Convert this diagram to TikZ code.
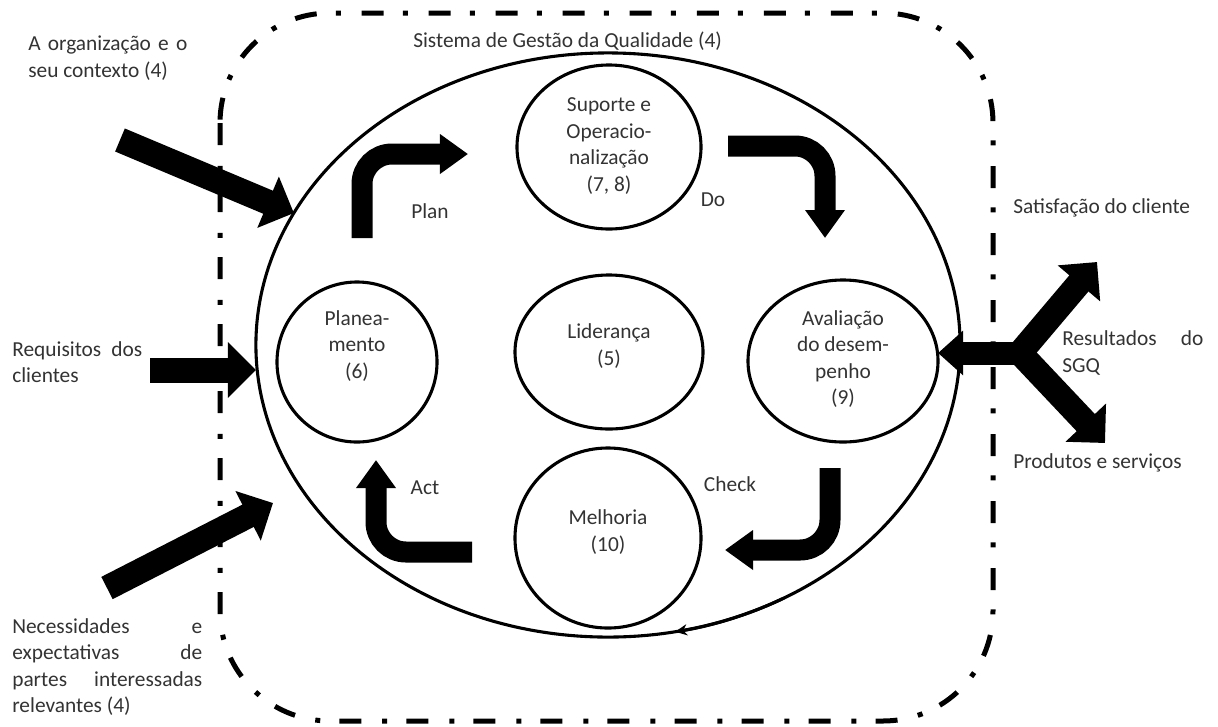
\documentclass[tikz,border=0pt]{standalone}
\usepackage{fontspec}
\setmainfont{Carlito}
\usetikzlibrary{shapes.geometric, arrows.meta, positioning}
\newcommand{\fillline}[2]{\makebox[#1][s]{#2}}

\begin{document}
\begin{tikzpicture}[x=0.025cm, y=-0.025cm, >=Stealth,
  phase/.style={ellipse, draw, line width=2.2pt, inner sep=0pt, outer sep=0pt},
  phasetext/.style={align=center, inner sep=0pt, text=black!80,
    font=\fontsize{15.2}{18.8}\selectfont},
  note/.style={align=left, inner sep=0pt, text=black!80,
    font=\fontsize{15.2}{18.8}\selectfont},
  inarrow/.style={line width=0.625cm, -{Triangle[length=0.7cm, width=1.35cm]}},
  backarrow/.style={line width=0.575cm, -{Triangle[length=0.625cm, width=1.075cm]}},
  cyclearrow/.style={line width=0.525cm, rounded corners=0.75cm,
    -{Triangle[length=0.7cm, width=0.95cm]}},
  sgqborder/.style={line width=0.125cm, rounded corners=2.75cm,
    dash pattern=on 0.55cm off 0.52cm on 0.125cm off 0.48cm}]
  \useasboundingbox (0,0) rectangle (1218,726);

  % system boundary
  \draw[sgqborder] (220,13) rectangle (993,721);
  \node[note, anchor=west] (sgqL) at (413,41) {Sistema de Gestão da Qualidade (4)};

  % main cycle
  \node[phase, minimum width=17.6cm, minimum height=14.6cm] (sgq) at (608,345) {};
  \draw[line width=2.2pt, -{Stealth[length=0.3cm, width=0.28cm]}]
    (784,598) arc[start angle=60, end angle=79, x radius=352, y radius=292];

  \node[phase, minimum width=4.6cm, minimum height=4.1cm] (sup) at (609,147) {};
  \node[phase, minimum width=4cm, minimum height=4cm] (plan) at (357,362) {};
  \node[phase, minimum width=4.7cm, minimum height=3.85cm] (lid) at (609,352) {};
  \node[phase, minimum width=4.75cm, minimum height=4.05cm] (aval) at (843,361) {};
  \node[phase, minimum width=4.65cm, minimum height=4.5cm] (melh) at (608,538) {};

  \node[phasetext] (supT) at (609,146) {Suporte e\\Operacio-\\nalização\\(7, 8)};
  \node[phasetext] (planT) at (357,346) {Planea-\\mento\\(6)};
  \node[phasetext] (lidT) at (609,346) {Liderança\\(5)};
  \node[phasetext] (avalT) at (843,359) {Avaliação\\do desem-\\penho\\(9)};
  \node[phasetext] (melhT) at (608,532) {Melhoria\\(10)};

  % PDCA
  \coordinate (planA) at (362,238);
  \coordinate (planB) at (468,154);
  \coordinate (doA) at (728,146);
  \coordinate (doB) at (825,238);
  \coordinate (checkA) at (830,468);
  \coordinate (checkB) at (725,550);
  \coordinate (actA) at (472,552);
  \coordinate (actB) at (376,460);
  \draw[cyclearrow] (planA) |- (planB);
  \draw[cyclearrow] (doA) -| (doB);
  \draw[cyclearrow] (checkA) |- (checkB);
  \draw[cyclearrow] (actA) -| (actB);
  \node[note] (planL) at (430,211) {Plan};
  \node[note] (doL) at (713,200) {Do};
  \node[note] (checkL) at (730,484) {Check};
  \node[note] (actL) at (425,488) {Act};

  % inputs
  \node[note, anchor=west] (orgL) at (28,58)
    {\fillline{3.975cm}{A organização e o}\\seu contexto (4)};
  \node[note, anchor=west] (reqL) at (12,362)
    {\fillline{3.25cm}{Requisitos dos}\\clientes};
  \node[note, anchor=west] (needL) at (12,667)
    {\fillline{4.75cm}{Necessidades e}\\\fillline{4.75cm}{expectativas de}\\
     \fillline{4.75cm}{partes interessadas}\\relevantes (4)};
  \coordinate (orgTail) at (120,140);
  \coordinate (reqTail) at (150,370);
  \coordinate (needTail) at (107,588);
  \coordinate (needTip) at (273,503);
  \draw[inarrow] (orgTail) -- (sgq);
  \draw[inarrow] (reqTail) -- (reqTail -| sgq.west);
  \draw[inarrow] (needTail) -- (needTip);

  % outputs
  \coordinate (hub) at (1020,353);
  \coordinate (satTip) at (1097,262);
  \coordinate (prodTip) at (1105,443);
  \draw[backarrow] (hub) -- (hub -| aval.east);
  \draw[inarrow] (hub) -- (satTip);
  \draw[inarrow] (hub) -- (prodTip);
  \node[note, anchor=west] (satL) at (1013,208) {Satisfação do cliente};
  \node[note, anchor=west] (resL) at (1062,353)
    {\fillline{3.525cm}{Resultados do}\\SGQ};
  \node[note, anchor=west] (prodL) at (1013,463) {Produtos e serviços};
\end{tikzpicture}
\end{document}
